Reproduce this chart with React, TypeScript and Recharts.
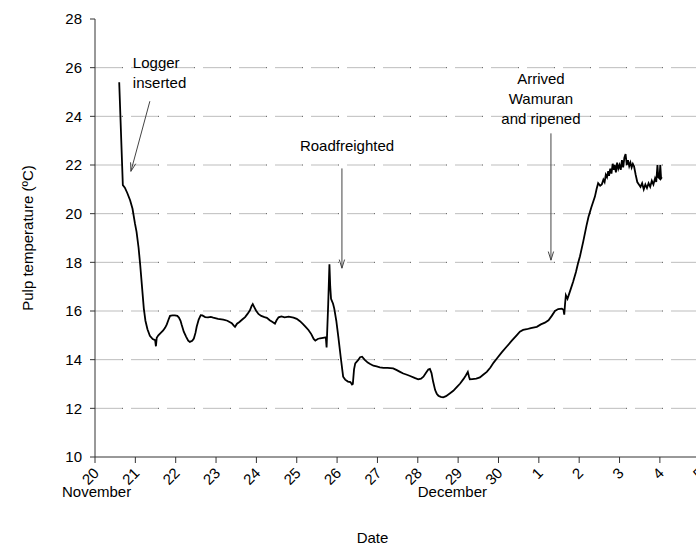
import { Line, LineChart, ReferenceLine, XAxis, YAxis } from 'recharts'

// days after 20 November, pulp temperature (°C)
const days = [
  0.6, 0.69, 0.74, 0.8, 0.87, 0.93, 0.99, 1.03, 1.08, 1.12, 1.17, 1.21, 1.25, 1.3, 1.36, 1.43, 1.49, 1.51, 1.53,
  1.57, 1.63, 1.69, 1.74, 1.78, 1.83, 1.86, 1.92, 1.98, 2.04, 2.08, 2.12, 2.15, 2.2, 2.26, 2.31, 2.35, 2.41, 2.45,
  2.49, 2.52, 2.57, 2.62, 2.66, 2.73, 2.8, 2.87, 2.93, 3.05, 3.18, 3.28, 3.39, 3.44, 3.47, 3.52, 3.58, 3.65, 3.72,
  3.78, 3.84, 3.88, 3.91, 3.95, 3.99, 4.05, 4.12, 4.2, 4.26, 4.33, 4.4, 4.46, 4.5, 4.55, 4.62, 4.7, 4.8, 4.92, 5.0,
  5.08, 5.15, 5.22, 5.29, 5.36, 5.42, 5.46, 5.52, 5.58, 5.65, 5.72, 5.74, 5.78, 5.81, 5.83, 5.85, 5.9, 5.93, 5.98,
  6.03, 6.09, 6.15, 6.2, 6.27, 6.33, 6.37, 6.39, 6.42, 6.45, 6.52, 6.57, 6.62, 6.68, 6.76, 6.82, 6.9, 6.98, 7.06,
  7.15, 7.25, 7.39, 7.48, 7.56, 7.64, 7.73, 7.81, 7.92, 8.01, 8.08, 8.14, 8.2, 8.26, 8.3, 8.34, 8.38, 8.43, 8.47,
  8.51, 8.57, 8.63, 8.7, 8.8, 8.88, 8.96, 9.05, 9.13, 9.19, 9.24, 9.27, 9.29, 9.35, 9.45, 9.54, 9.62, 9.71, 9.8,
  9.88, 9.96, 10.08, 10.2, 10.33, 10.45, 10.53, 10.61, 10.7, 10.8, 10.95, 11.05, 11.15, 11.24, 11.32, 11.4, 11.48,
  11.57, 11.61, 11.63, 11.65, 11.67, 11.71, 11.73, 11.79, 11.85, 11.92, 11.97, 12.02, 12.1, 12.18, 12.23, 12.3,
  12.39, 12.43, 12.47, 12.52, 12.56, 12.6, 12.63, 12.66, 12.69, 12.72, 12.74, 12.77, 12.8, 12.83, 12.86, 12.88,
  12.91, 12.94, 12.97, 13.0, 13.03, 13.06, 13.09, 13.12, 13.15, 13.18, 13.21, 13.24, 13.27, 13.3, 13.33, 13.36,
  13.4, 13.44, 13.48, 13.52, 13.56, 13.6, 13.64, 13.68, 13.72, 13.76, 13.8, 13.84, 13.88, 13.91, 13.94, 13.96,
  13.99, 14.01, 14.03, 14.05,
]
const temps = [
  25.4, 21.17, 21.07, 20.85, 20.55, 20.2, 19.6, 19.25, 18.6, 17.9, 16.9, 16.1, 15.6, 15.25, 14.98, 14.85, 14.8,
  14.55, 14.9, 15.0, 15.1, 15.2, 15.32, 15.45, 15.68, 15.8, 15.82, 15.82, 15.8, 15.73, 15.6, 15.42, 15.15, 14.94,
  14.78, 14.73, 14.78, 14.87, 15.1, 15.35, 15.65, 15.83, 15.82, 15.75, 15.74, 15.76, 15.73, 15.68, 15.65, 15.6,
  15.5, 15.4, 15.35, 15.48, 15.55, 15.65, 15.75, 15.88, 16.03, 16.2, 16.28, 16.15, 16.02, 15.88, 15.8, 15.75,
  15.72, 15.62, 15.55, 15.48, 15.62, 15.74, 15.78, 15.74, 15.77, 15.73, 15.68, 15.58, 15.47, 15.35, 15.22, 15.05,
  14.85, 14.78, 14.85, 14.88, 14.9, 14.92, 14.5, 16.3, 17.92, 17.0, 16.5, 16.3, 16.1, 15.6, 14.95, 14.1, 13.3,
  13.18, 13.1, 13.08, 12.98, 13.0, 13.6, 13.85, 13.98, 14.1, 14.12, 14.0, 13.88, 13.82, 13.75, 13.72, 13.68,
  13.66, 13.66, 13.64, 13.57, 13.5, 13.43, 13.38, 13.33, 13.25, 13.19, 13.22, 13.3, 13.45, 13.6, 13.62, 13.45,
  13.1, 12.75, 12.6, 12.52, 12.47, 12.45, 12.5, 12.62, 12.72, 12.86, 13.02, 13.2, 13.35, 13.5, 13.3, 13.19, 13.2,
  13.22, 13.27, 13.38, 13.5, 13.68, 13.88, 14.05, 14.3, 14.53, 14.78, 15.0, 15.15, 15.22, 15.25, 15.3, 15.35,
  15.45, 15.52, 15.62, 15.8, 16.0, 16.08, 16.1, 16.05, 15.85, 16.3, 16.65, 16.5, 16.6, 16.9, 17.2, 17.6, 17.95,
  18.25, 18.85, 19.5, 19.86, 20.25, 20.7, 21.0, 21.25, 21.15, 21.2, 21.4, 21.3, 21.6, 21.5, 21.75, 21.55, 21.85,
  21.65, 22.05, 21.8, 22.0, 21.7, 22.1, 21.85, 22.0, 21.8, 22.2, 21.9, 22.3, 22.45, 22.0, 22.2, 21.95, 22.1,
  21.9, 22.05, 21.95, 21.6, 21.3, 21.2, 21.1, 21.25, 21.0, 21.2, 21.05, 21.25, 21.1, 21.35, 21.2, 21.45, 21.3,
  22.0, 21.5, 21.45, 22.0, 21.45, 21.5,
]

const xTicks = [0, 1, 2, 3, 4, 5, 6, 7, 8, 9, 10, 11, 12, 13, 14, 15]
const xTickLabels = ['20', '21', '22', '23', '24', '25', '26', '27', '28', '29', '30', '1', '2', '3', '4', '5']
const months = [
  { day: 0, name: 'November', dx: -33 },
  { day: 8, name: 'December', dx: 0 },
]
const yTicks = [10, 12, 14, 16, 18, 20, 22, 24, 26, 28]
const gridValues = [12, 14, 16, 18, 20, 22, 24, 26]

const notes = [
  { from: [1.36, 24.62], to: [0.89, 21.74], lines: ['Logger', 'inserted'], anchor: 'start', dx: -17, dy: -33 },
  { from: [6.12, 21.86], to: [6.12, 17.76], lines: ['Roadfreighted'], anchor: 'start', dx: -42, dy: -17 },
  { from: [11.3, 23.3], to: [11.3, 18.09], lines: ['Arrived', 'Wamuran', 'and ripened'], anchor: 'middle', dx: -10, dy: -49 },
]

const data = days.map((d, i) => ({ day: d, temp: temps[i] }))
const font = '"Liberation Sans", Arial, sans-serif'

function DateTick({ x, y, payload }: any) {
  const month = months.find((m) => m.day === payload.value)
  const ax = x + 5
  const ay = y + 9
  return (
    <g>
      <text x={ax} y={ay} textAnchor="end" transform={`rotate(-45, ${ax}, ${ay})`} fontSize={15} fontFamily={font} fill="#000">
        {xTickLabels[payload.value]}
      </text>
      {month && (
        <text x={x + month.dx} y={y + 32} fontSize={15} fontFamily={font} fill="#000">
          {month.name}
        </text>
      )}
    </g>
  )
}

function Arrow({ x1, y1, x2, y2, note }: any) {
  const a = Math.atan2(y2 - y1, x2 - x1)
  const len = 9
  const spread = 0.3
  const h1x = x2 - len * Math.cos(a - spread)
  const h1y = y2 - len * Math.sin(a - spread)
  const h2x = x2 - len * Math.cos(a + spread)
  const h2y = y2 - len * Math.sin(a + spread)
  return (
    <g>
      <line x1={x1} y1={y1} x2={x2} y2={y2} stroke="#444" strokeWidth={1} />
      <polyline points={`${h1x},${h1y} ${x2},${y2} ${h2x},${h2y}`} fill="none" stroke="#444" strokeWidth={1} />
      {note.lines.map((t: string, i: number) => (
        <text key={t} x={x1 + note.dx} y={y1 + note.dy + i * 20} textAnchor={note.anchor} fontSize={15} fontFamily={font} fill="#000">
          {t}
        </text>
      ))}
    </g>
  )
}

export default function App() {
  return (
    <div style={{ position: 'absolute', left: 0, top: 0, width: 696, height: 549, overflow: 'hidden', background: '#fff' }}>
      <LineChart width={720} height={549} data={data} margin={{ top: 19, right: 0, left: 0, bottom: 0 }}>
        <XAxis
          dataKey="day"
          type="number"
          domain={[0, 15.49]}
          allowDataOverflow
          ticks={xTicks}
          interval={0}
          height={92}
          tickSize={6}
          tick={<DateTick />}
          axisLine={{ stroke: '#333' }}
          tickLine={{ stroke: '#333' }}
          label={{ value: 'Date', position: 'insideBottom', offset: 6, dx: -35, fontSize: 15, fontFamily: font, fill: '#000' }}
        />
        <YAxis
          type="number"
          domain={[10, 28]}
          ticks={yTicks}
          interval={0}
          width={95}
          tickSize={5}
          tickMargin={8}
          axisLine={{ stroke: '#333' }}
          tickLine={{ stroke: '#333' }}
          tick={{ fontSize: 15, fontFamily: font, fill: '#000' }}
          label={{
            content: ({ viewBox }: any) => {
              const cy = viewBox.y + viewBox.height / 2
              return (
                <text x={27} y={cy} textAnchor="middle" dominantBaseline="central" transform={`rotate(-90, 27, ${cy})`} fontSize={15} fontFamily={font} fill="#000">
                  Pulp temperature (ºC)
                </text>
              )
            },
          }}
        />
        {gridValues.map((v) => (
          <ReferenceLine key={`g${v}`} y={v} stroke="#bdbdbd" strokeDasharray="27 9" />
        ))}
        {gridValues.map((v) => (
          <ReferenceLine key={`d${v}`} y={v} stroke="#555" strokeDasharray="1 35" strokeDashoffset={-27} />
        ))}
        <Line type="linear" dataKey="temp" stroke="#000" strokeWidth={1.8} dot={false} isAnimationActive={false} />
        {notes.map((n, i) => (
          <ReferenceLine
            key={`n${i}`}
            segment={[{ x: n.from[0], y: n.from[1] }, { x: n.to[0], y: n.to[1] }]}
            shape={(p: any) => <Arrow {...p} note={n} />}
          />
        ))}
      </LineChart>
    </div>
  )
}
